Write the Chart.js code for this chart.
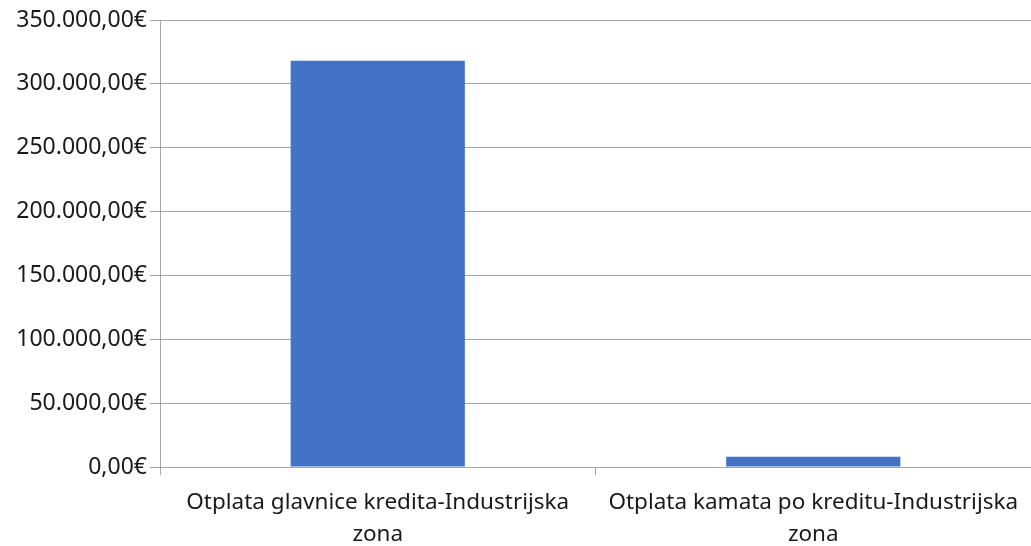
<!DOCTYPE html>
<html lang="hr">
<head>
    <meta charset="UTF-8">
    <meta name="viewport" content="width=device-width, initial-scale=1.0">
    <script src="https://cdn.jsdelivr.net/npm/chart.js"></script>
    <title>Otplata kredita</title>
    <style>
        html, body { margin: 0; padding: 0; background: #fff; }
        #wrap { width: 1031px; height: 546px; }
    </style>
</head>
<body>
    <div id="wrap">
        <canvas id="myChart" width="1031" height="546"></canvas>
    </div>
    <script>
        // kategorije (dvije linije po labeli)
        let categories = [
            ['Otplata glavnice kredita-Industrijska', 'zona'],
            ['Otplata kamata po kreditu-Industrijska', 'zona']
        ];
        // iznosi u eurima
        let values = [318000, 8050];
        let y_min = 0;
        let y_max = 350000;
        let y_step = 50000;

        // 350000 -> 350.000,00€
        function fn_euro(v){
            let s = Math.round(v).toString();
            s = s.replace(/\B(?=(\d{3})+(?!\d))/g, '.');
            return s + ',00€';
        }

        let grid_color = '#a6a6a6';
        let ctx = document.getElementById('myChart');
        let myChart = new Chart(ctx, {
            type : 'bar'
            ,data : {
                labels : categories
                ,datasets : [{
                    data : values
                    ,backgroundColor : '#4472c4'
                    ,borderWidth : 0
                    ,categoryPercentage : 1
                    ,barPercentage : 0.4
                }]
            }
            ,options : {
                responsive : false
                ,animation : false
                ,layout : { padding : { top : 20, right : 0, left : 0, bottom : 0 } }
                ,plugins : { legend : { display : false }, tooltip : { enabled : false } }
                ,scales : {
                    x : {
                        offset : true
                        ,grid : { offset : true, drawOnChartArea : false, drawTicks : true, tickLength : 8, color : grid_color }
                        ,border : { color : grid_color }
                        ,ticks : {
                            color : '#1a1a1a'
                            ,font : { family : 'Noto Sans', size : 22.5, lineHeight : 1.42 }
                            ,padding : 12
                            ,maxRotation : 0
                            ,autoSkip : false
                        }
                        ,afterFit : function(scale){ scale.height = 79; }
                    }
                    ,y : {
                        min : y_min
                        ,max : y_max
                        ,grid : { color : grid_color, tickLength : 10 }
                        ,border : { color : grid_color }
                        ,ticks : {
                            stepSize : y_step
                            ,color : '#1a1a1a'
                            ,font : { family : 'Noto Sans', size : 23 }
                            ,padding : 3
                            ,callback : function(v){ return fn_euro(v); }
                        }
                        ,afterFit : function(scale){ scale.width = 160; }
                    }
                }
            }
        });
    </script>
</body>
</html>
